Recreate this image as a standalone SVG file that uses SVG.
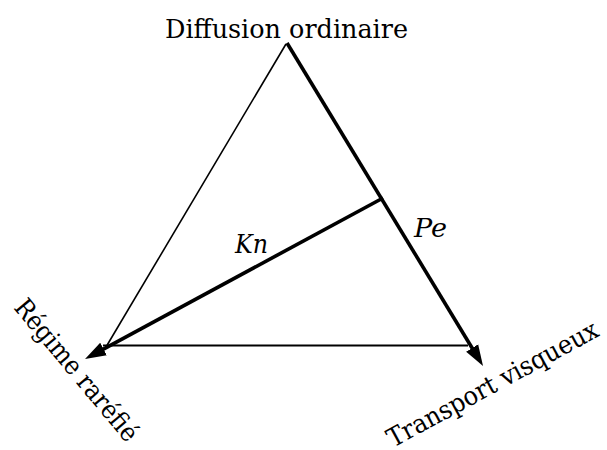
<svg xmlns="http://www.w3.org/2000/svg" width="607" height="450" viewBox="0 0 607 450">
<style>
text{font-family:'DejaVu Serif',serif;fill:#000;}
.lbl{font-size:26px;}
.it{font-size:26px;font-style:italic;}
.thin{stroke:#000;stroke-width:1.6;fill:none;}
.base{stroke:#000;stroke-width:2.2;fill:none;}
.thick{stroke:#000;stroke-width:3.6;fill:none;}
</style>
<defs>
<marker id="ah" markerUnits="userSpaceOnUse" markerWidth="22" markerHeight="16" refX="9" refY="7.5" orient="auto">
<path d="M0,0.5 L21,7.5 L0,14.5 Z" fill="#000"/>
</marker>
</defs>
<g id="connectors">
<line class="thin" x1="286" y1="44" x2="106" y2="347"/>
<line class="base" x1="103" y1="345.5" x2="468" y2="345.5"/>
<line class="thick" x1="287" y1="43" x2="476.8" y2="355.7" marker-end="url(#ah)"/>
<line class="thick" x1="383" y1="198" x2="95.6" y2="353.3" marker-end="url(#ah)"/>
</g>
<g id="node-diffusion"><text class="lbl" x="286.5" y="38" text-anchor="middle" textLength="243" lengthAdjust="spacingAndGlyphs">Diffusion ordinaire</text></g>
<g id="node-regime"><text class="lbl" transform="translate(13,308) rotate(50)" textLength="177" lengthAdjust="spacingAndGlyphs">Régime raréfié</text></g>
<g id="node-transport"><text class="lbl" transform="translate(393,448) rotate(-28.5)" textLength="236" lengthAdjust="spacingAndGlyphs">Transport visqueux</text></g>
<g id="label-kn"><text class="it" x="235" y="253" textLength="33" lengthAdjust="spacingAndGlyphs">Kn</text></g>
<g id="label-pe"><text class="it" x="414" y="237" textLength="33" lengthAdjust="spacingAndGlyphs">Pe</text></g>
</svg>
